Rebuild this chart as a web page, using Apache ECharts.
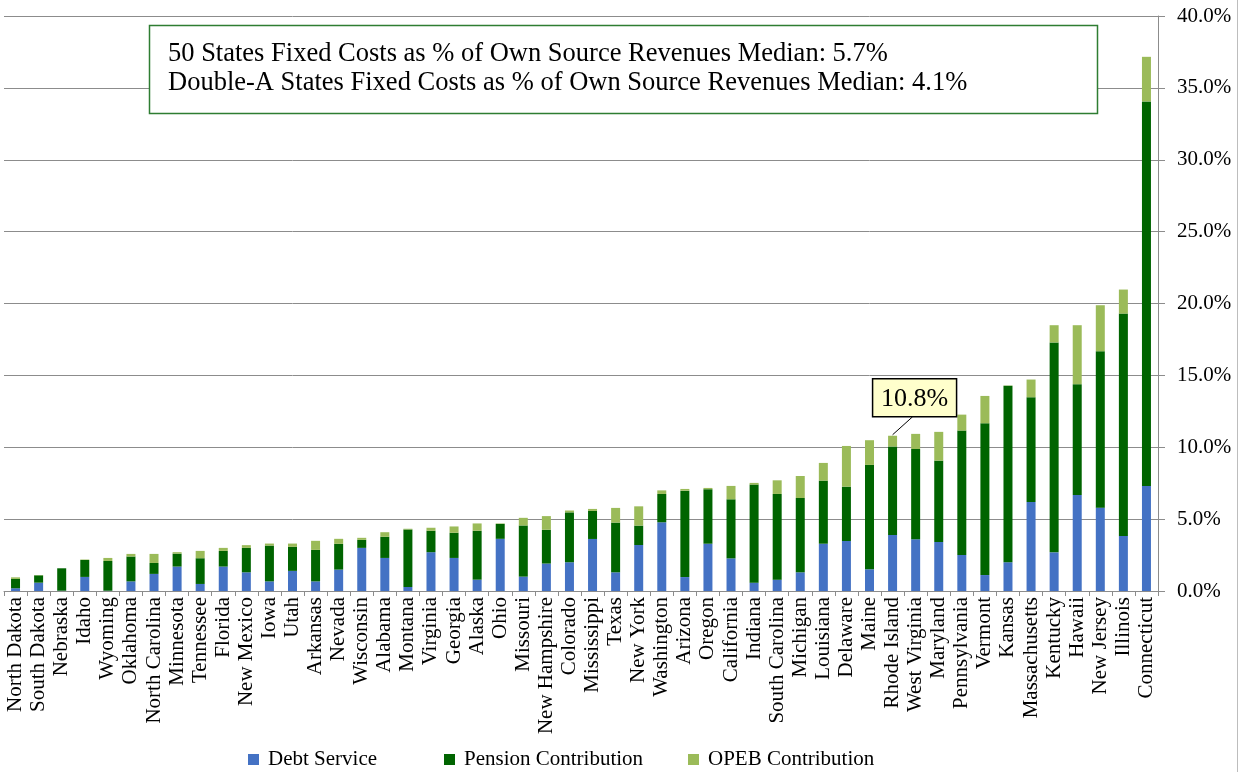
<!DOCTYPE html>
<html>
<head>
<meta charset="utf-8">
<script src="https://cdn.jsdelivr.net/npm/echarts@6/dist/echarts.min.js"></script>
<style>
    html, body { margin: 0; padding: 0; background: #fff; }
    #main { width: 1244px; height: 772px; }
</style>
</head>
<body>
<div id="main"></div>
<script>
// 州名
var states = ['North Dakota', 'South Dakota', 'Nebraska', 'Idaho', 'Wyoming', 'Oklahoma', 'North Carolina',
    'Minnesota', 'Tennessee', 'Florida', 'New Mexico', 'Iowa', 'Utah', 'Arkansas', 'Nevada', 'Wisconsin',
    'Alabama', 'Montana', 'Virginia', 'Georgia', 'Alaska', 'Ohio', 'Missouri', 'New Hampshire', 'Colorado',
    'Mississippi', 'Texas', 'New York', 'Washington', 'Arizona', 'Oregon', 'California', 'Indiana',
    'South Carolina', 'Michigan', 'Louisiana', 'Delaware', 'Maine', 'Rhode Island', 'West Virginia',
    'Maryland', 'Pennsylvania', 'Vermont', 'Kansas', 'Massachusetts', 'Kentucky', 'Hawaii', 'New Jersey',
    'Illinois', 'Connecticut'];

var debtService = [0.19, 0.58, 0.02, 0.98, 0.02, 0.67, 1.19, 1.70, 0.49, 1.70, 1.30, 0.67, 1.40, 0.67, 1.49,
    3.00, 2.30, 0.28, 2.70, 2.30, 0.79, 3.63, 1.00, 1.91, 2.00, 3.62, 1.30, 3.20, 4.78, 0.97, 3.29, 2.27, 0.58,
    0.79, 1.30, 3.29, 3.48, 1.51, 3.90, 3.60, 3.41, 2.51, 1.11, 2.00, 6.19, 2.69, 6.68, 5.80, 3.83, 7.31];

var pension = [0.65, 0.51, 1.56, 1.18, 2.07, 1.73, 0.76, 0.90, 1.79, 1.09, 1.70, 2.49, 1.67, 2.19, 1.79,
    0.56, 1.47, 4.00, 1.49, 1.75, 3.40, 1.04, 3.56, 2.35, 3.47, 1.95, 3.46, 1.35, 1.97, 6.01, 3.79, 4.11, 6.82,
    5.96, 5.17, 4.39, 3.78, 7.26, 6.15, 6.28, 5.66, 8.65, 10.56, 12.27, 7.29, 14.60, 7.71, 10.88, 15.47, 26.75];

var opeb = [0.11, 0.02, 0.00, 0.03, 0.21, 0.18, 0.63, 0.10, 0.51, 0.21, 0.19, 0.14, 0.23, 0.63, 0.35,
    0.14, 0.32, 0.05, 0.21, 0.44, 0.51, 0.03, 0.53, 0.95, 0.13, 0.14, 1.02, 1.34, 0.25, 0.12, 0.09, 0.93, 0.12,
    0.95, 1.53, 1.23, 2.83, 1.72, 0.75, 1.05, 2.00, 1.11, 1.90, 0.02, 1.23, 1.20, 4.10, 3.20, 1.67, 3.10];

var medianLines = ['50 States Fixed Costs as % of Own Source Revenues Median: 5.7%',
    'Double-A States Fixed Costs as % of Own Source Revenues Median: 4.1%'];

var calloutState = 'Rhode Island';
var calloutText = '10.8%';

var serif = '"Liberation Serif", "Times New Roman", serif';
var myChart = echarts.init(document.getElementById('main'));

function legendAt(name, left) {
    return {
        data: [name],
        left: left,
        top: 744,
        itemWidth: 11,
        itemHeight: 11,
        icon: 'rect',
        textStyle: {fontFamily: serif, fontSize: 21, color: '#000', padding: [0, 0, 0, 4]}
    };
}

var option = {
    animation: false,
    color: ['#4472C4', '#006400', '#9BBB59'],
    textStyle: {fontFamily: serif},
    legend: [
        legendAt('Debt Service', 243),
        legendAt('Pension Contribution', 439),
        legendAt('OPEB Contribution', 683)
    ],
    grid: {
        left: 4,
        right: 86,
        top: 16,
        bottom: 181,
        containLabel: false
    },
    xAxis: {
        type: 'category',
        data: states,
        axisLine: {lineStyle: {color: '#8c8c8c', width: 1}},
        axisTick: {show: true, length: 5, lineStyle: {color: '#8c8c8c'}},
        axisLabel: {
            rotate: 90,
            interval: 0,
            margin: 6,
            color: '#000',
            fontFamily: serif,
            fontSize: 21
        }
    },
    yAxis: {
        type: 'value',
        position: 'right',
        min: 0,
        max: 40,
        interval: 5,
        axisLine: {show: true, lineStyle: {color: '#8c8c8c'}},
        axisTick: {show: true, length: 7, lineStyle: {color: '#8c8c8c'}},
        splitLine: {lineStyle: {color: '#8c8c8c', width: 1}},
        axisLabel: {
            margin: 19,
            color: '#000',
            fontFamily: serif,
            fontSize: 21,
            formatter: function (v) {
                return v.toFixed(1) + '%';
            }
        }
    },
    series: [
        {name: 'Debt Service', type: 'bar', stack: 'cost', barWidth: 9, data: debtService},
        {name: 'Pension Contribution', type: 'bar', stack: 'cost', barWidth: 9, data: pension},
        {name: 'OPEB Contribution', type: 'bar', stack: 'cost', barWidth: 9, data: opeb}
    ]
};
myChart.setOption(option);

// 注释框 和 10.8% 标注
var idx = states.indexOf(calloutState);
var total = debtService[idx] + pension[idx] + opeb[idx];
var barTop = myChart.convertToPixel({xAxisIndex: 0, yAxisIndex: 0}, [idx, total]);
var boxX = barTop[0] - 20, boxY = barTop[1] - 57;

myChart.setOption({
    graphic: [
        {
            type: 'rect',
            shape: {x: 149.5, y: 25.5, width: 948, height: 88},
            style: {fill: '#fff', stroke: '#2e7d32', lineWidth: 1.5},
            z: 10
        },
        {
            type: 'text', x: 168, y: 54, z: 11,
            style: {text: medianLines[0], fontFamily: serif, fontSize: 26.5, fill: '#000', verticalAlign: 'middle'}
        },
        {
            type: 'text', x: 168, y: 83, z: 11,
            style: {text: medianLines[1], fontFamily: serif, fontSize: 26.5, fill: '#000', verticalAlign: 'middle'}
        },
        {
            type: 'line',
            shape: {x1: barTop[0], y1: barTop[1] - 1, x2: barTop[0] + 20, y2: barTop[1] - 19},
            style: {stroke: '#000', lineWidth: 1},
            z: 10
        },
        {
            type: 'rect',
            shape: {x: boxX, y: boxY, width: 84, height: 38},
            style: {fill: '#ffffcc', stroke: '#000', lineWidth: 1.5},
            z: 10
        },
        {
            type: 'text', x: boxX + 42, y: boxY + 20, z: 11,
            style: {text: calloutText, fontFamily: serif, fontSize: 26, fill: '#000', align: 'center', verticalAlign: 'middle'}
        },
        {
            type: 'line',
            shape: {x1: 1237.5, y1: 0, x2: 1237.5, y2: 772},
            style: {stroke: '#bdbdbd', lineWidth: 1}
        }
    ]
});
</script>
</body>
</html>
